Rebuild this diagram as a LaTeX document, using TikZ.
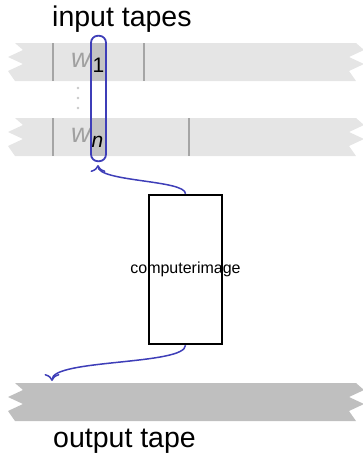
\documentclass[tikz,border=0pt]{standalone}
\usepackage{fontspec}
\setmainfont{Liberation Sans}
\usetikzlibrary{arrows.meta}
\definecolor{headblue}{RGB}{62,62,184}
\definecolor{tapelight}{RGB}{229,229,229}
\definecolor{tapehead}{RGB}{196,196,196}
\definecolor{tapedark}{RGB}{191,191,191}
\definecolor{cellline}{RGB}{165,165,165}
\definecolor{wgray}{RGB}{160,160,160}
\definecolor{dotgray}{RGB}{200,200,200}
\newcommand\tapeshape[2]{%
  \fill[#2] (15,#1) -- (356,#1) -- (364,#1+7) -- (349,#1+14) -- (364,#1+21) -- (349,#1+28) -- (356,#1+38)
    -- (15,#1+38) -- (8,#1+28) -- (23,#1+21) -- (8,#1+14) -- (23,#1+7) -- cycle;}
\begin{document}
\begin{tikzpicture}[x=1pt,y=-1pt,
  bigtext/.style={inner sep=0pt, font=\fontsize{28.5}{32}\selectfont, anchor=base west},
  celltext/.style={inner sep=0pt, font=\fontsize{27}{30}\selectfont, anchor=base west},
  cellsep/.style={draw=cellline, line width=1.1pt},
  headbox/.style={draw=headblue, line width=1.8pt, rounded corners=7pt, minimum width=15pt, minimum height=125.5pt, inner sep=0pt},
  compbox/.style={draw=black, line width=2.5pt, minimum width=73pt, minimum height=149pt, inner sep=0pt, font=\fontsize{16}{19}\selectfont},
  headarrow/.style={draw=headblue, line width=1.5pt, -{To[length=7pt,width=15pt]}}]
\useasboundingbox (0,0) rectangle (362,453);
% input tapes
\tapeshape{43}{tapelight}
\tapeshape{118}{tapelight}
\fill[tapehead] (92,43) rectangle (106,81);
\fill[tapehead] (92,118) rectangle (106,156);
\draw[cellsep] (53,43) -- (53,81);
\draw[cellsep] (144,43) -- (144,81);
\draw[cellsep] (53,118) -- (53,156);
\draw[cellsep] (189,118) -- (189,156);
\node[celltext] (w1) at (71,67) {\textcolor{wgray}{\itshape w}\hspace{2pt}\raisebox{-5pt}{\fontsize{21}{21}\selectfont 1}};
\node[celltext] (wn) at (71,142) {\textcolor{wgray}{\itshape w}\hspace{1pt}\raisebox{-5pt}{\fontsize{21}{21}\selectfont\itshape n}};
\fill[dotgray] (78,88) circle (1.4);
\fill[dotgray] (78,98) circle (1.4);
\fill[dotgray] (78,108) circle (1.4);
\node[headbox] (head) at (98.5,98.5) {};
\node[bigtext] (intitle) at (52,26) {input tapes};
% output tape
\tapeshape{383}{tapedark}
\node[bigtext] (outtitle) at (53,447) {output tape};
% computer
\node[compbox] (comp) at (185.5,269.5) {\makebox[0pt]{computerimage}};
\coordinate (headin) at (98,165);
\coordinate (outin) at (52,381);
\draw[headarrow] (comp.north) .. controls +(0,-14) and +(0,17) .. (headin);
\draw[headarrow] (comp.south) .. controls +(0,20) and +(0,-22) .. (outin);
\end{tikzpicture}
\end{document}
